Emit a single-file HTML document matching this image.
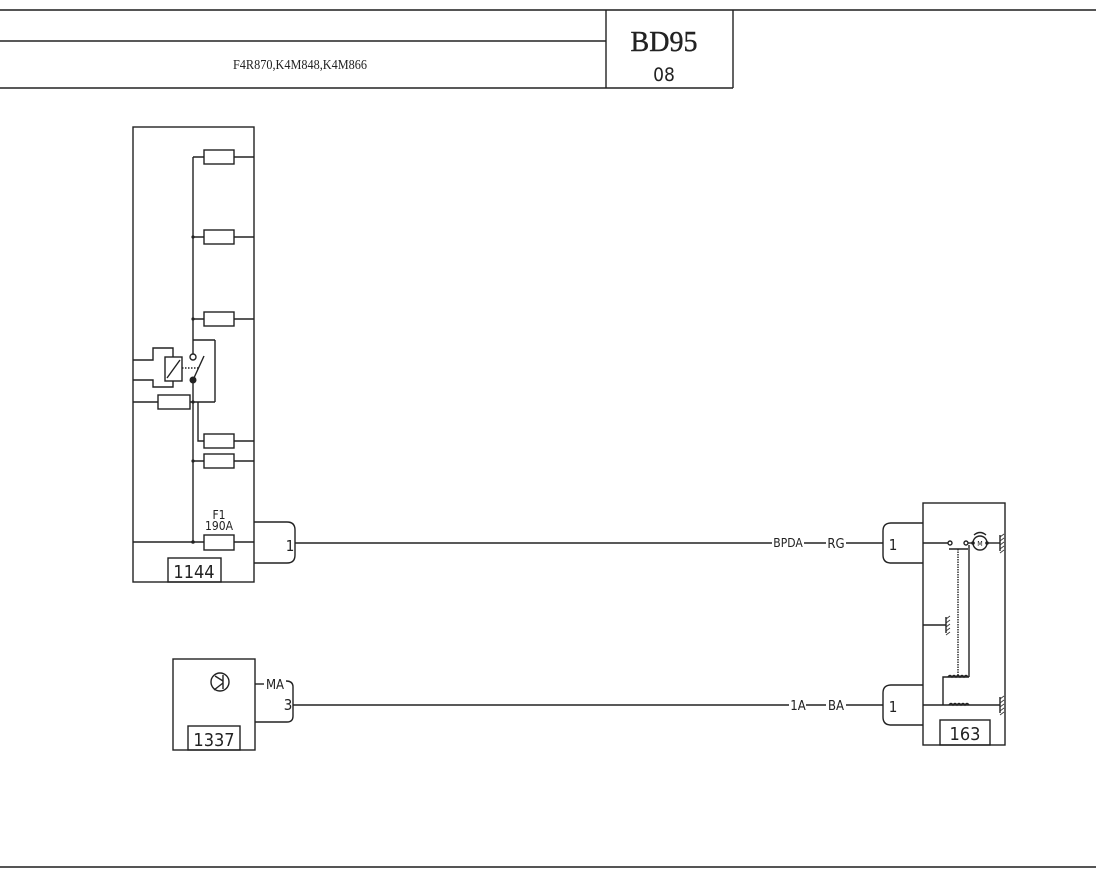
<!DOCTYPE html>
<html><head><meta charset="utf-8"><style>
html,body{margin:0;padding:0;background:#fff;}
svg{display:block;}
text{font-family:"DejaVu Sans Condensed","Liberation Sans",sans-serif;fill:#222;}
</style></head><body>
<svg width="1096" height="880" viewBox="0 0 1096 880" xmlns="http://www.w3.org/2000/svg">
<g stroke="#222" stroke-width="1.4" fill="none">
<!-- title block -->
<line x1="0" y1="10" x2="1096" y2="10" stroke="#555" stroke-width="2"/>
<line x1="0" y1="41" x2="606" y2="41"/>
<line x1="0" y1="88" x2="733" y2="88"/>
<line x1="606" y1="10" x2="606" y2="88"/>
<line x1="733" y1="10" x2="733" y2="88"/>
<line x1="0" y1="867" x2="1096" y2="867" stroke="#555" stroke-width="2"/>

<!-- 1144 box -->
<rect x="133" y="127" width="121" height="455"/>
<rect x="168" y="558" width="53" height="24"/>
<line x1="193" y1="157" x2="193" y2="340"/>
<line x1="193" y1="157" x2="254" y2="157"/>
<rect x="204" y="150" width="30" height="14" fill="#fff"/>
<line x1="193" y1="237" x2="254" y2="237"/>
<rect x="204" y="230" width="30" height="14" fill="#fff"/>
<line x1="193" y1="319" x2="254" y2="319"/>
<rect x="204" y="312" width="30" height="14" fill="#fff"/>
<!-- relay -->
<line x1="193" y1="340" x2="215" y2="340"/>
<line x1="215" y1="340" x2="215" y2="402"/>
<line x1="193" y1="340" x2="193" y2="354"/>
<circle cx="193" cy="357" r="3" fill="#fff"/>
<line x1="193" y1="380" x2="204" y2="356"/>
<line x1="182" y1="368" x2="199" y2="368" stroke-dasharray="1.5,1.5"/>
<rect x="165" y="357" width="17" height="24" fill="#fff"/>
<line x1="167" y1="378" x2="180" y2="360"/>
<polyline points="133,360 153,360 153,348 173,348 173,357"/>
<polyline points="133,380 153,380 153,387 173,387 173,381"/>
<line x1="193" y1="380" x2="193" y2="542"/>
<line x1="133" y1="402" x2="215" y2="402"/>
<rect x="158" y="395" width="32" height="14" fill="#fff"/>
<polyline points="198,402 198,441 254,441"/>
<rect x="204" y="434" width="30" height="14" fill="#fff"/>
<line x1="193" y1="461" x2="254" y2="461"/>
<rect x="204" y="454" width="30" height="14" fill="#fff"/>
<line x1="133" y1="542" x2="254" y2="542"/>
<rect x="204" y="535" width="30" height="15" fill="#fff"/>
<!-- connector 1 -->
<path d="M254,522 H287 Q295,522 295,530 V555 Q295,563 287,563 H254"/>
<line x1="295" y1="543" x2="772" y2="543"/>
<line x1="804" y1="543" x2="826" y2="543"/>
<line x1="846" y1="543" x2="883" y2="543"/>

<!-- 1337 box -->
<rect x="173" y="659" width="82" height="91"/>
<rect x="188" y="726" width="52" height="24"/>
<circle cx="220" cy="682" r="9"/>
<line x1="223" y1="675" x2="223" y2="689"/>
<line x1="223" y1="681" x2="215" y2="676"/>
<line x1="223" y1="683" x2="214" y2="690"/>
<line x1="255" y1="684" x2="264" y2="684"/>
<path d="M286,681 Q293,681 293,687 V716 Q293,722 287,722 H255"/>
<line x1="293" y1="705" x2="789" y2="705"/>
<line x1="806" y1="705" x2="826" y2="705"/>
<line x1="846" y1="705" x2="883" y2="705"/>

<!-- 163 box -->
<rect x="923" y="503" width="82" height="242"/>
<rect x="940" y="720" width="50" height="25"/>
<path d="M923,523 H891 Q883,523 883,531 V555 Q883,563 891,563 H923"/>
<path d="M923,685 H891 Q883,685 883,693 V717 Q883,725 891,725 H923"/>
<line x1="923" y1="543" x2="948" y2="543"/>
<circle cx="950" cy="543" r="2"/>
<circle cx="966" cy="543" r="2"/>
<line x1="949" y1="549" x2="968" y2="549"/>
<line x1="968" y1="543" x2="973" y2="543"/>
<circle cx="980" cy="543" r="7"/>
<path d="M974,535 Q980,530 986,535"/>
<line x1="987" y1="543" x2="1000" y2="543"/>
<line x1="1000" y1="535" x2="1000" y2="551"/>
<line x1="958" y1="549" x2="958" y2="677" stroke-dasharray="1.5,1"/>
<line x1="969" y1="545" x2="969" y2="677"/>
<line x1="923" y1="625" x2="946" y2="625"/>
<line x1="946" y1="617" x2="946" y2="633"/>
<polyline points="943,705 943,677 969,677"/>
<path d="M948,677 q2,-3 4,0 q2,-3 4,0 q2,-3 4,0 q2,-3 4,0 q2,-3 4,0"/>
<line x1="923" y1="705" x2="1000" y2="705"/>
<path d="M949,705 q2,-3 4,0 q2,-3 4,0 q2,-3 4,0 q2,-3 4,0 q2,-3 4,0"/>
<line x1="1000" y1="697" x2="1000" y2="713"/>
</g>
<g stroke="#333" stroke-width="0.8">
<path d="M946,619 l4,-3 M946,623 l4,-3 M946,627 l4,-3 M946,631 l4,-3 M946,635 l4,-3"/>
<path d="M1000,537 l4,-3 M1000,541 l4,-3 M1000,545 l4,-3 M1000,549 l4,-3 M1000,553 l4,-3"/>
<path d="M1000,699 l4,-3 M1000,703 l4,-3 M1000,707 l4,-3 M1000,711 l4,-3 M1000,715 l4,-3"/>
</g>
<g fill="#222">
<circle cx="193" cy="380" r="3.5"/>
<circle cx="193" cy="237" r="1.6"/>
<circle cx="193" cy="319" r="1.6"/>
<circle cx="193" cy="402" r="1.6"/>
<circle cx="193" cy="461" r="1.6"/>
<circle cx="193" cy="542" r="1.8"/>
<circle cx="973" cy="543" r="1.8"/>
<circle cx="987" cy="543" r="1.8"/>
</g>
<text x="233" y="69" font-size="14" textLength="134" lengthAdjust="spacingAndGlyphs" style="font-family:'Liberation Serif',serif">F4R870,K4M848,K4M866</text>
<text x="664" y="51" font-size="28" text-anchor="middle" style="font-family:'Liberation Serif',serif" stroke="#222" stroke-width="0.4">BD95</text>
<text x="664" y="81" font-size="19" text-anchor="middle" fill="#444">08</text>
<text x="219" y="519" font-size="12" text-anchor="middle">F1</text>
<text x="219" y="530" font-size="12" text-anchor="middle">190A</text>
<text x="290" y="551" font-size="15" text-anchor="middle">1</text>
<text x="194" y="578" font-size="18" text-anchor="middle">1144</text>
<text x="788" y="547" font-size="12" text-anchor="middle">BPDA</text>
<text x="836" y="548" font-size="13" text-anchor="middle">RG</text>
<text x="893" y="550" font-size="15" text-anchor="middle">1</text>
<text x="980" y="546" font-size="7" text-anchor="middle">M</text>
<text x="275" y="689" font-size="13" text-anchor="middle">MA</text>
<text x="288" y="710" font-size="15" text-anchor="middle">3</text>
<text x="214" y="746" font-size="18" text-anchor="middle">1337</text>
<text x="798" y="710" font-size="13" text-anchor="middle">1A</text>
<text x="836" y="710" font-size="13" text-anchor="middle">BA</text>
<text x="893" y="712" font-size="15" text-anchor="middle">1</text>
<text x="965" y="740" font-size="18" text-anchor="middle">163</text>
</svg>
</body></html>
